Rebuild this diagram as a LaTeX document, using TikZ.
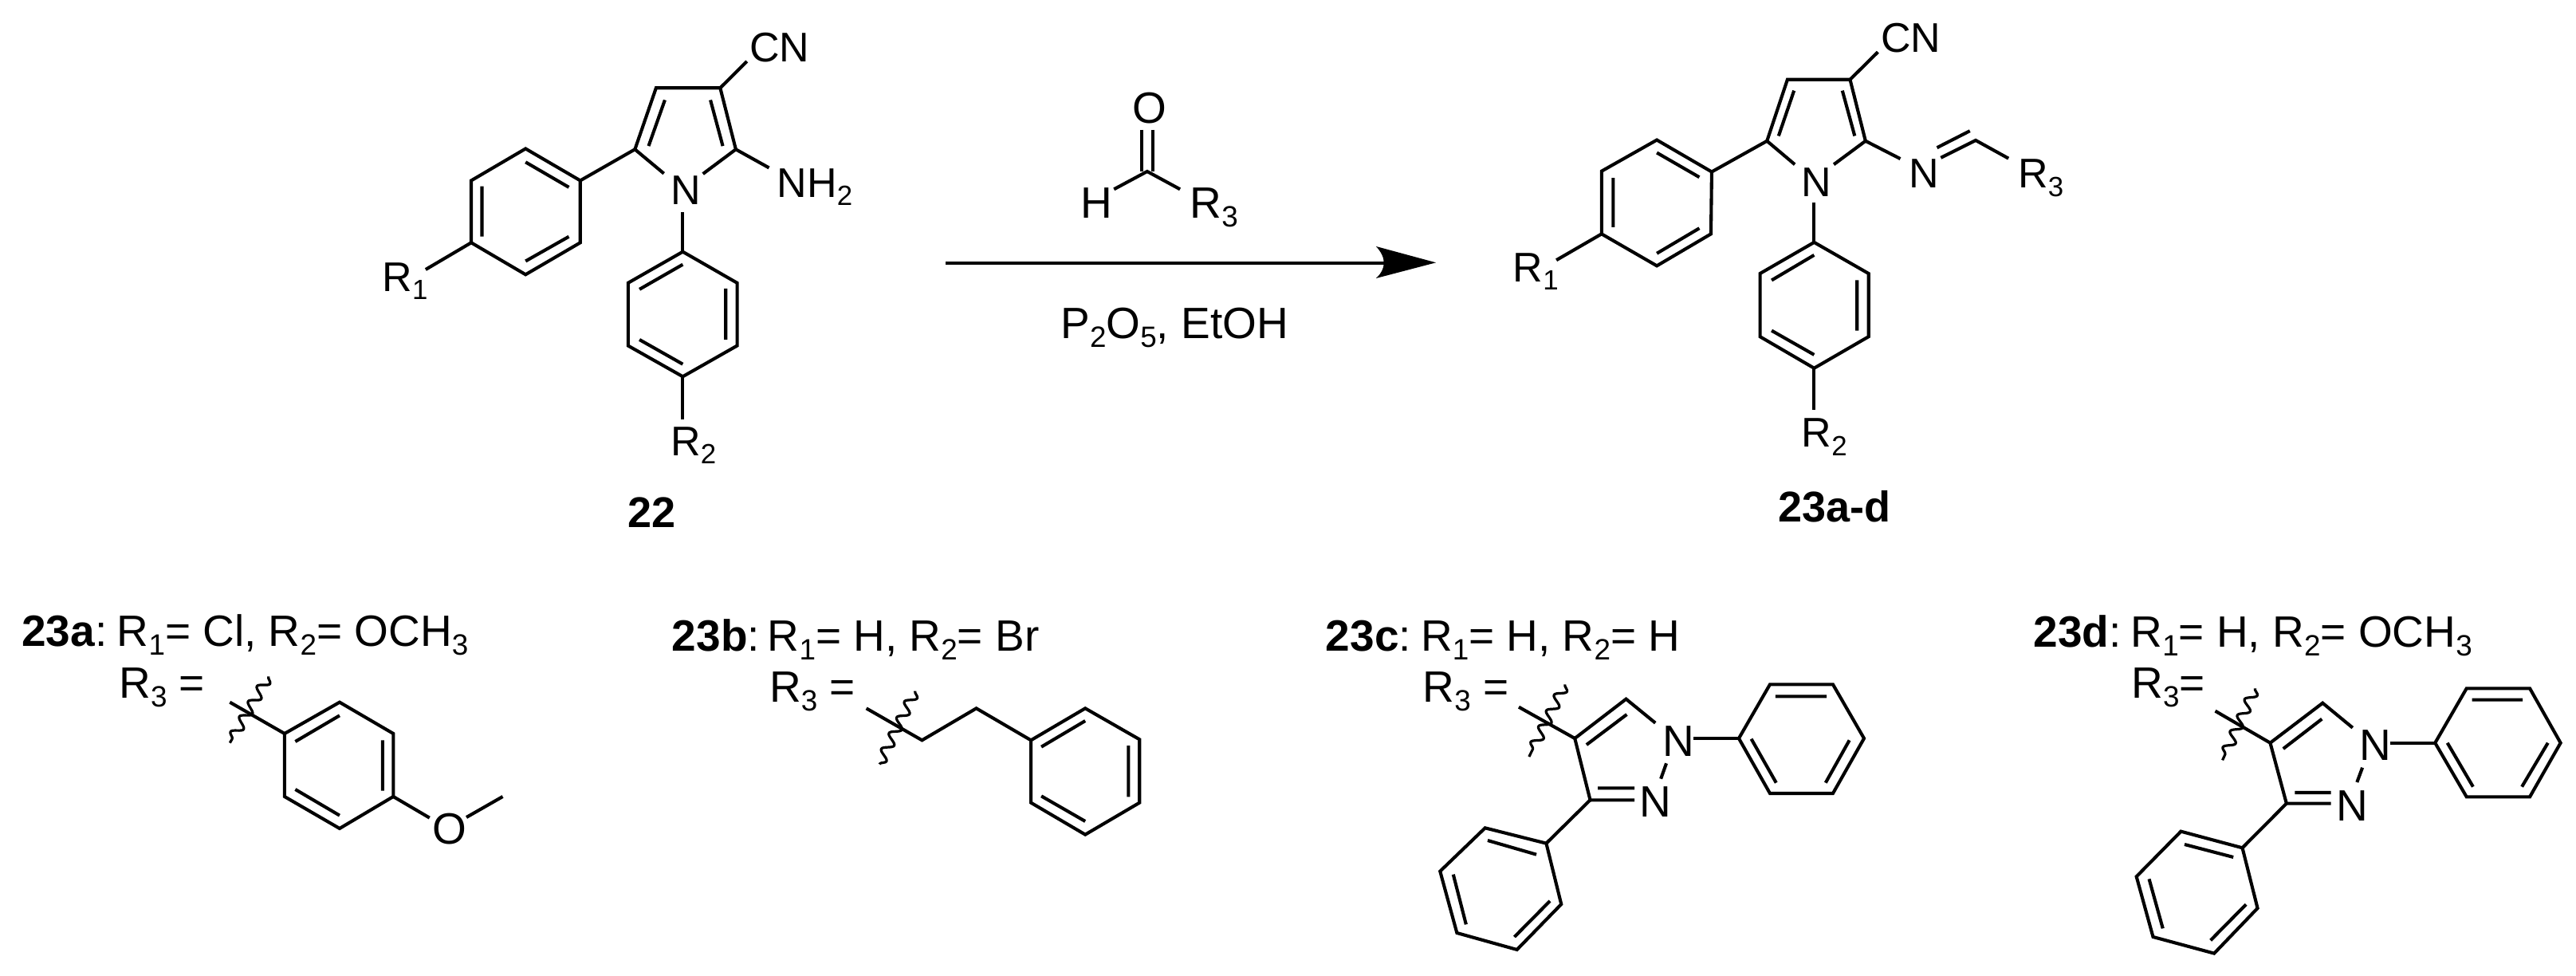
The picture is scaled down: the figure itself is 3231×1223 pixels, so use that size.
\documentclass[tikz,border=0pt]{standalone}
\usepackage{fontspec}
\setmainfont{Liberation Sans}
\usetikzlibrary{decorations.pathmorphing}
\newcommand\sbx[1]{\raisebox{-.2em}{\scalebox{.67}{#1}}}
\newcommand\pts[1]{\foreach \n/\px/\py in {#1}{\coordinate (\n) at (\px,\py);}}
\tikzset{
  bond/.style={line width=2.05pt,line join=miter,line cap=butt,black},
  lab/.style={anchor=base west,inner sep=0pt,outer sep=0pt,font=\fontsize{26}{30}\selectfont},
  txt/.style={anchor=base west,inner sep=0pt,outer sep=0pt,font=\fontsize{27.5}{30}\selectfont},
  wavy/.style={line width=1.6pt,black,line join=round,decorate,decoration={snake,amplitude=3.2pt,segment length=11pt}}
}
\begin{document}
\begin{tikzpicture}[x=0.5pt,y=-0.5pt]
\path[use as bounding box,fill=white] (0,0) rectangle (3231,1223);

% compound 22
\begin{scope}[shift={(440,0)},xscale=.4082,yscale=.4209]
\pts{p5/873/445,p4/938/262,p3/1135/262,p2/1183/445,pn1/962/517,pn2/1082/518,pcn/1217/183,pnh/1285/500,
 l1/705/538,l2/537/443,l3/370/538,l4/370/723,l5/537/818,l6/705/723,lr/230/803,
 d1/1020/750,d2/1187/843,d3/1187/1030,d4/1020/1122,d5/852/1030,d6/852/843,dn/1020/632,dr/1020/1250}
\draw[bond] (pn1)--(p5)--(p4)--(p3)--(p2)--(pn2);
\draw[bond] (p3)--(pcn);
\draw[bond] (p2)--(pnh);
\draw[bond] (p5)--(l1);
\draw[bond] (l1)--(l2)--(l3)--(l4)--(l5)--(l6)--cycle;
\draw[bond] (l4)--(lr);
\draw[bond] (dn)--(d1);
\draw[bond] (d1)--(d2)--(d3)--(d4)--(d5)--(d6)--cycle;
\draw[bond] (d4)--(dr);
\draw[bond] (965,298)--(915,435) (1105,298)--(1143,435);
\draw[bond] (537,483)--(670,558) (403,555)--(403,705) (537,778)--(670,705);
\draw[bond] (1020,788)--(887,862) (1152,860)--(1152,1012) (887,1012)--(1020,1085);
\node[lab] (cn22) at (1225,183) {CN};
\node[lab] (nh22) at (1310,587) {NH\sbx{2}};
\node[lab] (n22) at (983,610) {N};
\node[lab] (ra22) at (97,868) {R\sbx{1}};
\node[lab] (rb22) at (983,1358) {R\sbx{2}};
\node[lab,anchor=base,font=\fontsize{27}{30}\selectfont\bfseries] (t22) at (925,1572) {22};
\end{scope}

% reagent and arrow
\begin{scope}[shift={(1160,90)},xscale=.4337,yscale=.3333]
\pts{rc/643/375,rh/547/442,rr/738/442,as/60/720,an/1330/720,at/1478/718,ab/1305/657,ac/1305/777}
\draw[bond] (rh)--(rc)--(rr);
\draw[bond] (628,218)--(628,375) (660,218)--(660,375);
\node[txt] (ro) at (600,192) {O};
\node[txt] (rhl) at (450,550) {H};
\node[txt] (rrl) at (767,550) {R\sbx{3}};
\draw[line width=2.1pt] (as)--(an);
\fill (at)--(ab) .. controls (1335,700) and (1335,740) .. (ac)--cycle;
\node[txt] (cond) at (393,1005) {P\sbx{2}O\sbx{5}, EtOH};
\end{scope}

% compound 23a-d
\begin{scope}[shift={(1860,0)},xscale=.4847,yscale=.4209]
\pts{q5/735/420,q4/788/237,q3/950/237,q2/990/420,qn1/807/490,qn2/908/490,qcn/1022/155,qim/1080/473,
 m1/592/512,m2/450/417,m3/307/510,m4/307/697,m5/450/792,m6/590/697,mr/190/775,
 e1/857/722,e2/998/815,e3/998/1003,e4/857/1097,e5/717/1003,e6/717/815,en/857/603,er/857/1222,
 ia/1185/470,ib/1275/418,ic/1360/472}
\draw[bond] (qn1)--(q5)--(q4)--(q3)--(q2)--(qn2);
\draw[bond] (q3)--(qcn);
\draw[bond] (q2)--(qim);
\draw[bond] (q5)--(m1);
\draw[bond] (m1)--(m2)--(m3)--(m4)--(m5)--(m6)--cycle;
\draw[bond] (m4)--(mr);
\draw[bond] (en)--(e1);
\draw[bond] (e1)--(e2)--(e3)--(e4)--(e5)--(e6)--cycle;
\draw[bond] (e4)--(er);
\draw[bond] (ia)--(ib)--(ic);
\draw[bond] (1175,440)--(1260,390);
\draw[bond] (805,270)--(765,405) (930,270)--(962,405);
\draw[bond] (450,455)--(560,528) (337,530)--(337,677) (450,755)--(560,680);
\draw[bond] (857,760)--(747,835) (968,835)--(968,985) (747,985)--(857,1057);
\node[lab] (cn23) at (1030,155) {CN};
\node[lab] (n23) at (825,585) {N};
\node[lab] (im23) at (1102,560) {N};
\node[lab] (rc23) at (1385,560) {R\sbx{3}};
\node[lab] (ra23) at (78,840) {R\sbx{1}};
\node[lab] (rb23) at (825,1332) {R\sbx{2}};
\node[lab,anchor=base,font=\fontsize{27}{30}\selectfont\bfseries] (t23) at (910,1555) {23a-d};
\end{scope}

% 23a
\begin{scope}[shift={(0,740)},xscale=.4209,yscale=.3333]
\pts{a1/848/540,a2/1012/422,a3/1172/540,a4/1172/777,a5/1012/897,a6/848/777,as/685/422,ao1/1280/857,ao2/1390/855,am/1498/777,aw1/800/325,aw2/685/575}
\draw[bond] (as)--(a1);
\draw[bond] (a1)--(a2)--(a3)--(a4)--(a5)--(a6)--cycle;
\draw[bond] (a4)--(ao1);
\draw[bond] (ao2)--(am);
\draw[bond] (880,570)--(1012,472) (1140,565)--(1140,755) (880,750)--(1012,848);
\node[txt] (ta) at (65,212) {\textbf{23a}:\hspace{.22em}R\sbx{1}= Cl, R\sbx{2}= OCH\sbx{3}};
\node[txt] (ra) at (355,405) {R\sbx{3} =};
\node[txt] (oa) at (1288,957) {O};
\end{scope}

% 23b
\begin{scope}[shift={(780,740)},xscale=.4337,yscale=.3333]
\pts{b0/707/445,b1/868/565,b2/1025/445,b3/1183/565,b4/1340/445,b5/1497/562,b6/1497/800,b7/1340/920,b8/1183/800,bw1/848/380,bw2/745/655}
\draw[bond] (b0)--(b1)--(b2)--(b3);
\draw[bond] (b3)--(b4)--(b5)--(b6)--(b7)--(b8)--cycle;
\draw[bond] (1213,590)--(1340,492) (1465,585)--(1465,778) (1213,775)--(1340,870);
\node[txt] (tb) at (145,230) {\textbf{23b}:\hspace{.18em}R\sbx{1}= H, R\sbx{2}= Br};
\node[txt] (rb) at (427,422) {R\sbx{3} =};
\end{scope}

% 23c
\begin{scope}[shift={(1640,760)},xscale=.4592,yscale=.3333]
\pts{c4/730/498,c5/870/350,cn1/950/440,cn2/980/592,cn3/965/650,c3/772/730,cn4/893/730,cs/577/380,cw1/703/295,cw2/605/567,
 cp0/1055/498,cp1/1178/498,cp2/1263/295,cp3/1435/295,cp4/1520/498,cp5/1435/705,cp6/1263/705,
 cq1/652/893,cq2/485/835,cq3/362/998,cq4/408/1230,cq5/572/1293,cq6/693/1122}
\draw[bond] (cs)--(c4);
\draw[bond] (cn1)--(c5)--(c4)--(c3)--(cn4);
\draw[bond] (cn2)--(cn3);
\draw[bond] (793,685)--(893,685) (762,522)--(872,408);
\draw[bond] (cp0)--(cp1);
\draw[bond] (cp1)--(cp2)--(cp3)--(cp4)--(cp5)--(cp6)--cycle;
\draw[bond] (1278,340)--(1418,340) (1480,505)--(1415,665) (1280,665)--(1212,500);
\draw[bond] (c3)--(cq1);
\draw[bond] (cq1)--(cq2)--(cq3)--(cq4)--(cq5)--(cq6)--cycle;
\draw[bond] (625,935)--(492,882) (398,1010)--(433,1198) (565,1245)--(662,1110);
\node[txt] (tc) at (50,170) {\textbf{23c}:\hspace{.22em}R\sbx{1}= H, R\sbx{2}= H};
\node[txt] (rcc) at (315,362) {R\sbx{3} =};
\node[txt] (nc1) at (970,565) {N};
\node[txt] (nc2) at (908,793) {N};
\end{scope}

% 23d
\begin{scope}[shift={(2520,760)},xscale=.4535,yscale=.3333]
\pts{f4/722/515,f5/867/365,fn1/950/458,fn2/977/608,fn3/962/663,f3/767/743,fn4/890/743,fs/570/395,fw1/680/310,fw2/590/580,
 fp0/1053/515,fp1/1178/515,fp2/1265/310,fp3/1440/310,fp4/1525/515,fp5/1440/718,fp6/1265/718,
 fq1/645/910,fq2/475/848,fq3/352/1018,fq4/398/1245,fq5/567/1307,fq6/687/1137}
\draw[bond] (fs)--(f4);
\draw[bond] (fn1)--(f5)--(f4)--(f3)--(fn4);
\draw[bond] (fn2)--(fn3);
\draw[bond] (790,702)--(890,702) (758,537)--(865,425);
\draw[bond] (fp0)--(fp1);
\draw[bond] (fp1)--(fp2)--(fp3)--(fp4)--(fp5)--(fp6)--cycle;
\draw[bond] (1280,353)--(1420,353) (1490,515)--(1418,680) (1283,680)--(1212,515);
\draw[bond] (f3)--(fq1);
\draw[bond] (fq1)--(fq2)--(fq3)--(fq4)--(fq5)--(fq6)--cycle;
\draw[bond] (620,945)--(485,897) (387,1027)--(425,1213) (557,1258)--(655,1123);
\node[txt] (td) at (67,155) {\textbf{23d}:\hspace{.22em}R\sbx{1}= H, R\sbx{2}= OCH\sbx{3}};
\node[txt] (rd) at (338,347) {R\sbx{3}=};
\node[txt] (nd1) at (968,580) {N};
\node[txt] (nd2) at (905,808) {N};
\end{scope}

% wavy cuts
\draw[wavy] (aw1)--(aw2);
\draw[wavy] (bw1)--(bw2);
\draw[wavy] (cw1)--(cw2);
\draw[wavy] (fw1)--(fw2);
\end{tikzpicture}
\end{document}
